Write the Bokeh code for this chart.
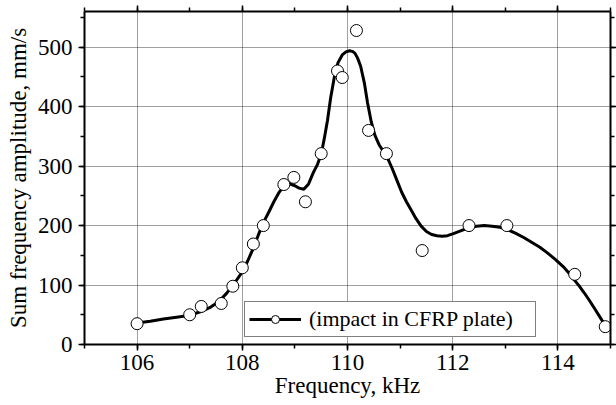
from bokeh.plotting import figure
from bokeh.models import (Range1d, LinearAxis, SingleIntervalTicker, Legend, LegendItem,
                          CustomLabelingPolicy)
from bokeh.embed import file_html
from bokeh.resources import INLINE

# measured points
freq_pts = [106.0, 107.0, 107.22, 107.6, 107.82, 108.0, 108.21, 108.4, 108.79, 108.98,
            109.2, 109.5, 109.81, 109.9, 110.17, 110.4, 110.74, 111.42, 112.31, 113.03,
            114.32, 114.9]
amp_pts = [35, 50, 64, 69, 98, 129, 169, 200, 269, 281,
           240, 321, 460, 449, 528, 360, 321, 158, 200, 200,
           118, 30]

# smooth fitted curve
fit_freq = [106.0, 106.25, 106.5, 106.75, 107.0, 107.2, 107.4, 107.55, 107.7, 107.85,
            108.0, 108.1, 108.2, 108.3, 108.4, 108.5, 108.6, 108.7, 108.8, 108.9,
            109.0, 109.08, 109.17, 109.26, 109.35, 109.43, 109.5, 109.56, 109.62, 109.68,
            109.75, 109.82, 109.9, 109.97, 110.04, 110.09, 110.14, 110.19, 110.25, 110.32,
            110.38, 110.45, 110.52, 110.6, 110.68, 110.76, 110.85, 110.94, 111.03, 111.12,
            111.21, 111.3, 111.4, 111.5, 111.6, 111.7, 111.8, 111.9, 112.0, 112.15,
            112.3, 112.45, 112.6, 112.75, 112.9, 113.05, 113.2, 113.35, 113.5, 113.65,
            113.8, 113.95, 114.1, 114.2, 114.3, 114.4, 114.5, 114.6, 114.7, 114.8,
            114.9]
fit_amp = [36, 39, 43, 46, 49, 55, 63, 72, 86, 103,
           122, 140, 160, 183, 205, 222, 240, 256, 268, 270,
           267, 263, 261, 270, 289, 303, 320, 347, 377, 415,
           450, 474, 487, 492, 494, 493, 490, 482, 468, 440,
           407, 375, 352, 336, 325, 314, 296, 276, 256, 240,
           226, 212, 199, 190, 185, 183, 182, 183, 186, 191,
           196, 199, 200, 199, 197, 193, 187, 180, 172, 164,
           154, 143, 131, 121, 110, 99, 87, 74, 60, 46,
           32]

legend_label = "(impact in CFRP plate)"
x_label = "Frequency, kHz"
y_label = "Sum frequency amplitude, mm/s"

FONT = "Liberation Serif"

p = figure(width=616, height=405, output_backend="svg", toolbar_location=None,
           x_range=Range1d(105, 115), y_range=Range1d(0, 560),
           min_border_left=84, min_border_right=6, min_border_top=11, min_border_bottom=61)
p.outline_line_color = None
p.background_fill_color = "white"

xt = SingleIntervalTicker(interval=2, num_minor_ticks=2)
yt = SingleIntervalTicker(interval=100, num_minor_ticks=2)
p.xaxis.ticker = xt
p.yaxis.ticker = yt

no_labels = CustomLabelingPolicy(code="""
for (let i = 0; i < indices.size; i++) { indices.unset(i) }
return indices
""")

def style_axis(ax, labels=True):
    ax.axis_line_width = 2
    ax.axis_line_color = "black"
    ax.major_tick_line_width = 1.5
    ax.minor_tick_line_width = 1.5
    ax.major_tick_out = 6
    ax.major_tick_in = 0
    ax.minor_tick_out = 4
    ax.minor_tick_in = 0
    ax.major_label_text_font = FONT
    ax.major_label_text_font_size = "23px" if labels else "0px"
    ax.major_label_text_color = "black"
    ax.major_label_standoff = 4 if labels else 0
    ax.axis_label_text_font = FONT
    ax.axis_label_text_font_size = "23px"
    ax.axis_label_text_font_style = "normal"
    ax.axis_label_text_color = "black"
    ax.axis_label_standoff = 2
    if not labels:
        ax.major_label_policy = no_labels

style_axis(p.xaxis[0])
style_axis(p.yaxis[0])
p.xaxis.axis_label = x_label
p.yaxis.axis_label = y_label
p.xaxis.axis_label_standoff = 0
p.yaxis.axis_label_standoff = 4
p.yaxis.major_label_standoff = 6

top = LinearAxis(ticker=SingleIntervalTicker(interval=2, num_minor_ticks=2))
right = LinearAxis(ticker=SingleIntervalTicker(interval=100, num_minor_ticks=2))
style_axis(top, labels=False)
style_axis(right, labels=False)
p.add_layout(top, "above")
p.add_layout(right, "right")

p.xgrid.ticker = xt
p.ygrid.ticker = yt
for g in (p.xgrid, p.ygrid):
    g.grid_line_color = "black"
    g.grid_line_alpha = 0.75
    g.grid_line_dash = "1 1"
    g.grid_line_width = 1

line_r = p.line(fit_freq, fit_amp, line_color="black", line_width=3)
pts_r = p.scatter(freq_pts, amp_pts, marker="circle", size=12,
                  fill_color="white", line_color="black", line_width=1)

legend = Legend(items=[LegendItem(label=legend_label, renderers=[line_r, pts_r])],
                location=(160, 7), orientation="vertical")
legend.label_text_font = FONT
legend.label_text_font_size = "22px"
legend.label_text_color = "black"
legend.glyph_width = 52
legend.glyph_height = 20
legend.label_height = 20
legend.label_standoff = 8
legend.label_width = 222
legend.padding = 4
legend.spacing = 0
legend.margin = 0
legend.border_line_color = "black"
legend.border_line_width = 1
legend.background_fill_color = "white"
legend.background_fill_alpha = 1
p.add_layout(legend, "center")

open("out.html", "w").write(file_html(p, INLINE))
